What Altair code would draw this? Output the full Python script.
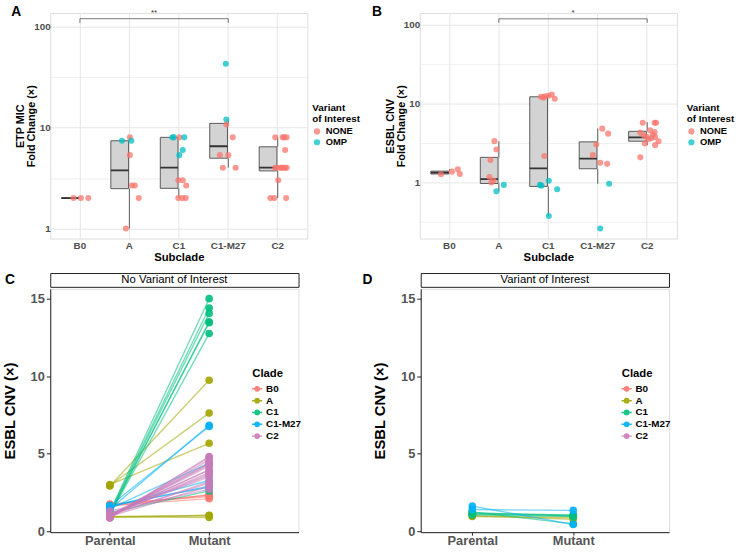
import altair as alt
import pandas as pd

FONT = "Liberation Sans"
GRID = "#E6E6E6"
LABEL_GREY = "#4D4D4D"

subclades = ["B0", "A", "C1", "C1-M27", "C2"]
variants = ["NONE", "OMP"]
variant_colors = ["#F8766D", "#00BFC4"]
clades = ["B0", "A", "C1", "C1-M27", "C2"]
clade_colors = ["#F8766D", "#A3A500", "#00BF7D", "#00B0F6", "#C77CB9"]
stages = ["Parental", "Mutant"]

# ---------------- Panel A : ETP MIC fold change ----------------
etp_subclade = ["B0", "B0", "B0",
                "A", "A", "A", "A", "A", "A", "A", "A",
                "C1", "C1", "C1", "C1", "C1", "C1", "C1", "C1", "C1", "C1", "C1", "C1",
                "C1-M27", "C1-M27", "C1-M27", "C1-M27", "C1-M27", "C1-M27", "C1-M27", "C1-M27",
                "C2", "C2", "C2", "C2", "C2", "C2", "C2", "C2", "C2", "C2", "C2", "C2", "C2", "C2", "C2", "C2"]
etp_value = [2, 2, 2,
             8, 7.4, 7.4, 5.33, 2.67, 2.67, 2, 1,
             8, 8, 8, 8, 6, 5.33, 3, 3, 2.67, 2, 2, 2,
             42.9, 12, 10.7, 8, 5.33, 5.33, 4, 4,
             8, 8, 8, 8, 6, 4, 4, 4, 4, 4, 4, 4, 3, 2, 2, 2]
etp_variant = ["NONE"] * 3 + \
              ["NONE", "OMP", "OMP", "NONE", "NONE", "NONE", "NONE", "NONE"] + \
              ["OMP", "OMP", "NONE", "OMP", "OMP", "OMP", "NONE", "NONE", "NONE", "NONE", "NONE", "NONE"] + \
              ["OMP", "OMP", "NONE", "NONE", "NONE", "NONE", "NONE", "NONE"] + \
              ["NONE"] * 16
etp_jitter = [-0.13, 0.02, 0.17,
              0.01, -0.15, 0.04, 0.01, 0.05, 0.11, 0.19, -0.07,
              -0.13, -0.10, 0.01, 0.11, 0.08, 0.01, -0.01, 0.08, 0.15, -0.01, 0.07, 0.14,
              -0.05, -0.04, -0.04, 0.09, -0.17, 0.0, -0.11, 0.15,
              -0.05, 0.10, 0.13, 0.18, 0.15, -0.05, -0.02, 0.05, 0.08, 0.11, 0.15, 0.18, 0.01, -0.15, -0.07, 0.17]
etp_box_lo = [2, 1, 2, 4, 2]
etp_box_q1 = [2, 2.48, 2.5, 4.97, 3.72]
etp_box_med = [2, 3.77, 4.0, 6.53, 4.0]
etp_box_q3 = [2, 7.4, 8, 11.0, 6.45]
etp_box_hi = [2, 8, 8, 12, 8]
etp_bracket_groups = ["B0", "C1-M27"]
etp_bracket_top = 120
etp_bracket_end = 109
etp_sig = "**"
etp_sig_group = "A"
etp_sig_y = 136

# ---------------- Panel B : ESBL CNV fold change ----------------
esbl_subclade = ["B0"] * 4 + ["A"] * 8 + ["C1"] * 12 + ["C1-M27"] * 8 + ["C2"] * 16
esbl_value = [1.27, 1.37, 1.47, 1.28,
              3.34, 2.62, 1.93, 1.17, 1.06, 1.0, 0.93, 0.77,
              12.2, 12.4, 12.6, 13.0, 11.5, 11.9, 2.16, 0.93, 0.91, 1.05, 0.82, 0.375,
              4.81, 4.16, 3.03, 2.22, 1.78, 1.72, 0.96, 0.26,
              5.72, 5.72, 5.72, 4.58, 4.37, 4.28, 3.96, 3.78, 3.67, 3.78, 3.12, 2.97, 3.33, 2.08, 3.53, 4.03]
esbl_variant = ["NONE"] * 4 + ["NONE"] * 6 + ["OMP"] * 2 + ["NONE"] * 7 + ["OMP"] * 5 + \
               ["NONE"] * 6 + ["OMP"] * 2 + ["NONE"] * 16
esbl_jitter = [-0.17, 0.05, 0.17, 0.21,
               -0.09, -0.05, -0.17, -0.19, -0.11, -0.15, 0.10, -0.05,
               -0.15, -0.07, 0.0, 0.07, 0.13, -0.10, -0.08, -0.17, -0.14, 0.01, 0.18, 0.01,
               0.09, 0.21, -0.03, -0.10, 0.05, 0.19, 0.23, 0.05,
               -0.09, 0.15, 0.18, 0.06, 0.15, -0.14, -0.07, -0.01, 0.09, 0.16, -0.05, 0.16, 0.23, -0.14, 0.03, 0.11]
esbl_box_lo = [1.27, 0.77, 0.375, 0.96, 2.97]
esbl_box_q1 = [1.28, 0.97, 0.89, 1.49, 3.33]
esbl_box_med = [1.33, 1.10, 1.51, 2.0, 3.74]
esbl_box_q3 = [1.39, 2.08, 12.2, 3.27, 4.45]
esbl_box_hi = [1.47, 3.34, 13.0, 4.81, 5.8]
esbl_bracket_groups = ["A", "C2"]
esbl_bracket_top = 119
esbl_bracket_end = 106
esbl_sig = "*"
esbl_sig_group = "C1"
esbl_sig_y = 140

# ---------------- Panel C : no variant of interest ----------------
novar_clade = ["B0"] * 4 + ["A"] * 6 + ["C1"] * 7 + ["C1-M27"] * 6 + ["C2"] * 17
novar_parental = [1.65, 1.70, 1.60, 1.75,
                  2.92, 2.95, 3.0, 0.90, 0.95, 0.92,
                  1.25, 1.2, 1.15, 1.1, 1.12, 1.05, 1.2,
                  1.42, 1.62, 1.45, 1.55, 1.6, 1.65,
                  0.85, 0.86, 0.88, 0.95, 0.97, 1.0, 1.05, 1.0, 1.0, 1.05, 1.02, 1.1, 1.1, 1.0, 1.05, 0.95, 1.3]
novar_mutant = [2.10, 2.33, 2.35, 2.24,
                9.74, 7.62, 5.67, 1.03, 1.0, 0.88,
                15.0, 14.4, 14.05, 13.5, 13.45, 12.75, 2.6,
                6.83, 6.75, 4.39, 3.27, 2.9, 2.84,
                4.82, 4.75, 4.6, 4.35, 4.2, 4.3, 4.4, 3.95, 3.8, 3.95, 3.7, 3.6, 3.5, 3.2, 3.1, 2.9, 2.7]

# ---------------- Panel D : variant of interest ----------------
var_clade = ["A", "A", "C1", "C1", "C1", "C1", "C1", "C1-M27", "C1-M27"]
var_parental = [0.95, 1.0, 1.1, 1.15, 1.05, 1.2, 1.25, 1.4, 1.62]
var_mutant = [0.88, 0.77, 1.02, 1.05, 0.95, 0.98, 0.47, 1.34, 0.43]


def box_panel(letter, letter_x, legend_x, ytitle, sub, val, var, jit, lo, q1, med, q3, hi,
              br_groups, br_top, br_end, sig, sig_group, sig_y, ydomain, gridvals):
    pts = pd.DataFrame({"subclade": sub, "value": val, "variant": var, "jit": jit})
    box = pd.DataFrame({"subclade": subclades, "lo": lo, "q1": q1, "med": med, "q3": q3, "hi": hi})
    br = pd.DataFrame({"subclade": [br_groups[0], br_groups[0], br_groups[1], br_groups[1]],
                       "value": [br_end, br_top, br_top, br_end], "ord": [0, 1, 2, 3]})
    sigdf = pd.DataFrame({"subclade": [sig_group], "value": [sig_y], "jit": [0.5], "lab": [sig]})

    major = "abs(log(datum.value)/LN10 - round(log(datum.value)/LN10)) < 0.01"
    xsc = alt.Scale(domain=subclades, paddingInner=0, paddingOuter=0.1)
    x_main = alt.X("subclade:N", sort=subclades, scale=xsc,
                   axis=alt.Axis(title="Subclade", grid=True, gridColor=GRID, gridWidth=1, bandPosition=0.5,
                                 ticks=False, domain=False, labelAngle=0, labelFontSize=10,
                                 labelFontWeight="bold", labelColor=LABEL_GREY, labelPadding=2,
                                 titleFontSize=11.5, titleFontWeight="bold", titleColor="black",
                                 titlePadding=1))
    # panel letter carried by a title-only axis along the top edge
    x_letter = alt.X("subclade:N", sort=subclades, scale=xsc,
                     axis=alt.Axis(orient="top", title=letter, titleX=letter_x, titleY=-8, titleAngle=0,
                                   titleAlign="left", titleBaseline="top", titleFontSize=14,
                                   titleFontWeight="bold", titleColor="black", labels=False, ticks=False,
                                   domain=False, grid=False, minExtent=0))
    x_none = alt.X("subclade:N", sort=subclades, scale=xsc, axis=None)
    ysc = alt.Scale(type="log", domain=ydomain, nice=False)
    yax = alt.Axis(title=ytitle, values=gridvals, grid=True, gridColor=GRID,
                   gridWidth={"condition": {"test": major, "value": 1}, "value": 0.6},
                   labelExpr=major + " ? format(datum.value, '~g') : ''",
                   ticks=False, domain=False, labelFontSize=10, labelFontWeight="bold",
                   labelColor=LABEL_GREY, labelPadding=0, titleFontSize=11, titleFontWeight="bold",
                   titleColor="black", titlePadding=-3, titleLineHeight=11)
    xo = alt.XOffset("jit:Q", scale=alt.Scale(domain=[-0.5, 0.5]))

    whisk_lo = alt.Chart(box).mark_rule(color="#595959", strokeWidth=1).encode(
        x=x_none, y=alt.Y("lo:Q", scale=ysc, axis=yax), y2="q1:Q")
    whisk_hi = alt.Chart(box).mark_rule(color="#595959", strokeWidth=1).encode(
        x=x_none, y=alt.Y("q3:Q", scale=ysc, axis=yax), y2="hi:Q")
    boxes = alt.Chart(box).mark_bar(width=alt.RelativeBandSize(0.75), fill="#D3D3D3",
                                    stroke="#595959", strokeWidth=1).encode(
        x=x_none, y=alt.Y("q1:Q", scale=ysc, axis=yax), y2="q3:Q")
    medians = alt.Chart(box).mark_bar(width=alt.RelativeBandSize(0.75), fill="#333333",
                                      stroke="#333333", strokeWidth=1.8).encode(
        x=x_none, y=alt.Y("med:Q", scale=ysc, axis=yax), y2="med:Q")
    points = alt.Chart(pts).mark_circle(size=38, opacity=0.75).encode(
        x=x_main, xOffset=xo, y=alt.Y("value:Q", scale=ysc, axis=yax),
        color=alt.Color("variant:N", scale=alt.Scale(domain=variants, range=variant_colors),
                        legend=alt.Legend(title=["Variant", "of Interest"], orient="none",
                                          legendX=legend_x, legendY=92, symbolType="circle",
                                          symbolSize=40, titleFontSize=10, titleFontWeight="bold",
                                          titleLineHeight=10.5, labelFontSize=9.5,
                                          labelFontWeight="bold", rowPadding=0, titlePadding=3)))
    bracket = alt.Chart(br).mark_line(color="#555555", strokeWidth=0.8).encode(
        x=x_letter, y=alt.Y("value:Q", scale=ysc, axis=yax), order="ord:Q")
    sigtext = alt.Chart(sigdf).mark_text(fontSize=8, color="#333333", baseline="middle").encode(
        x=x_none, xOffset=xo, y=alt.Y("value:Q", scale=ysc, axis=yax), text="lab:N")
    return alt.layer(whisk_lo, whisk_hi, boxes, medians, points, bracket, sigtext).resolve_axis(
        x="independent").properties(width=261, height=229)


def long_df(clade, par, mut):
    rows = []
    for i, (c, p, m) in enumerate(zip(clade, par, mut)):
        rows.append({"id": i, "clade": c, "stage": "Parental", "value": p})
        rows.append({"id": i, "clade": c, "stage": "Mutant", "value": m})
    return pd.DataFrame(rows)


def line_panel(letter, letter_dx, strip_text, df, xpad, xalign, legend_x):
    x = alt.X("stage:N", sort=stages,
              scale=alt.Scale(type="point", domain=stages, padding=xpad, align=xalign),
              axis=alt.Axis(title=None, labelAngle=0, labelFontSize=13, labelFontWeight="bold",
                            labelColor="#555555", domainColor="#222222", tickColor="#222222",
                            tickSize=3, labelPadding=0, grid=False))
    y = alt.Y("value:Q", scale=alt.Scale(domain=[-0.064, 15.636], nice=False, zero=False),
              axis=alt.Axis(title="ESBL CNV (×)", values=[0, 5, 10, 15], grid=False,
                            domainColor="#222222", tickColor="#222222", tickSize=4,
                            labelFontSize=13, labelFontWeight="bold", labelColor="#555555",
                            labelPadding=2, titleFontSize=15, titleFontWeight="bold",
                            titleColor="black", titlePadding=13))
    color = alt.Color("clade:N", scale=alt.Scale(domain=clades, range=clade_colors),
                      legend=alt.Legend(title="Clade", orient="none", legendX=legend_x, legendY=97,
                                        symbolType="M -1.3 0 L 1.3 0 M 0.55 0 A 0.55 0.55 0 1 1 -0.55 0 A 0.55 0.55 0 1 1 0.55 0 Z",
                                        symbolSize=64, symbolStrokeWidth=1.5, symbolOpacity=0.9,
                                        titleFontSize=11.5, titleFontWeight="bold", labelFontSize=10,
                                        labelFontWeight="bold", rowPadding=0, titlePadding=4))
    lines = alt.Chart(df).mark_line(strokeWidth=1.4, opacity=0.55).encode(
        x=x, y=y, color=color, detail="id:N")
    pts = alt.Chart(df).mark_circle(size=60, opacity=0.9).encode(x=x, y=y, color=color)
    main = alt.layer(lines, pts).properties(width=252, height=247)
    strip = alt.Chart(pd.DataFrame({"lab": [strip_text]})).mark_text(
        fontSize=11.5, color="black", baseline="middle").encode(text="lab:N").properties(
        width=252, height=14, view=alt.ViewBackground(stroke="#222222", strokeWidth=1))
    return alt.vconcat(strip, main, spacing=0).properties(
        title=alt.TitleParams(letter, anchor="start", frame="bounds", fontSize=14, fontWeight="bold",
                              offset=-15, dx=letter_dx, color="black"))


panel_a = box_panel("A", -40, 266, ["ETP MIC", "Fold Change (×)"], etp_subclade, etp_value, etp_variant,
                    etp_jitter, etp_box_lo, etp_box_q1, etp_box_med, etp_box_q3, etp_box_hi,
                    etp_bracket_groups, etp_bracket_top, etp_bracket_end, etp_sig, etp_sig_group, etp_sig_y,
                    [0.794, 136.9], [1, 3.1623, 10, 31.623, 100])
panel_b = box_panel("B", -49, 271, ["ESBL CNV", "Fold Change (×)"], esbl_subclade, esbl_value, esbl_variant,
                    esbl_jitter, esbl_box_lo, esbl_box_q1, esbl_box_med, esbl_box_q3, esbl_box_hi,
                    esbl_bracket_groups, esbl_bracket_top, esbl_bracket_end, esbl_sig, esbl_sig_group, esbl_sig_y,
                    [0.194, 141.3], [0.31623, 1, 3.1623, 10, 31.623, 100])
panel_c = line_panel("C", 3, "No Variant of Interest", long_df(novar_clade, novar_parental, novar_mutant),
                     0.75, 0.40, 205)
panel_d = line_panel("D", -10, "Variant of Interest", long_df(var_clade, var_parental, var_mutant),
                     0.73, 0.35, 204)

top = alt.hconcat(panel_a, panel_b, spacing=9).resolve_scale(
    color="independent", x="independent", y="independent", xOffset="independent").resolve_legend(
    color="independent")
bottom = alt.hconcat(panel_c, panel_d, spacing=62).resolve_scale(
    color="independent", x="independent", y="independent").resolve_legend(color="independent")

chart = alt.vconcat(top, bottom, spacing=9).resolve_scale(
    color="independent", x="independent", y="independent").resolve_legend(color="independent").properties(
    padding={"left": 2, "top": 0, "right": 0, "bottom": 0}
).configure_view(stroke=None).configure(font=FONT).configure_axis(labelFont=FONT, titleFont=FONT).configure_legend(
    labelFont=FONT, titleFont=FONT).configure_title(font=FONT)

chart.save("out.html", embed_options={"renderer": "svg", "actions": False})
